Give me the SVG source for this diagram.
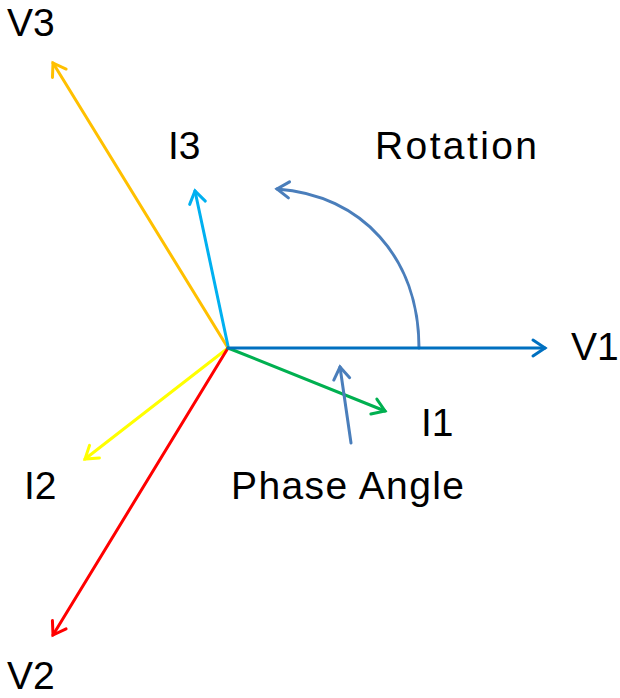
<svg xmlns="http://www.w3.org/2000/svg" width="620" height="698" viewBox="0 0 620 698">
<style>
.lbl{font-family:"Liberation Sans","Open Sans",Arial,sans-serif;font-size:39px;fill:#000}
.vec{fill:none;stroke-width:3;stroke-linecap:round}
.head{fill:none;stroke-width:3;stroke-linecap:round;stroke-linejoin:miter}
</style>
<defs>
<marker id="mV1" markerUnits="userSpaceOnUse" orient="auto" markerWidth="30" markerHeight="30" refX="0" refY="0" viewBox="-15 -15 30 30" overflow="visible"><path class="head" d="M-12,-8 L0,0 L-12,8" stroke="#0070C0"/></marker>
<marker id="mV3" markerUnits="userSpaceOnUse" orient="auto" markerWidth="30" markerHeight="30" refX="0" refY="0" viewBox="-15 -15 30 30" overflow="visible"><path class="head" d="M-12,-8 L0,0 L-12,8" stroke="#FFC000"/></marker>
<marker id="mI3" markerUnits="userSpaceOnUse" orient="auto" markerWidth="30" markerHeight="30" refX="0" refY="0" viewBox="-15 -15 30 30" overflow="visible"><path class="head" d="M-12,-8 L0,0 L-12,8" stroke="#00B0F0"/></marker>
<marker id="mI2" markerUnits="userSpaceOnUse" orient="auto" markerWidth="30" markerHeight="30" refX="0" refY="0" viewBox="-15 -15 30 30" overflow="visible"><path class="head" d="M-12,-8 L0,0 L-12,8" stroke="#FFFF00"/></marker>
<marker id="mV2" markerUnits="userSpaceOnUse" orient="auto" markerWidth="30" markerHeight="30" refX="0" refY="0" viewBox="-15 -15 30 30" overflow="visible"><path class="head" d="M-12,-8 L0,0 L-12,8" stroke="#FF0000"/></marker>
<marker id="mI1" markerUnits="userSpaceOnUse" orient="auto" markerWidth="30" markerHeight="30" refX="0" refY="0" viewBox="-15 -15 30 30" overflow="visible"><path class="head" d="M-12,-8 L0,0 L-12,8" stroke="#00B050"/></marker>
<marker id="mRot" markerUnits="userSpaceOnUse" orient="auto" markerWidth="30" markerHeight="30" refX="0" refY="0" viewBox="-15 -15 30 30" overflow="visible"><path class="head" d="M-12,-8 L0,0 L-12,8" stroke="#4A7EBB"/></marker>
</defs>
<g id="connectors">
<path id="rotation-arc" class="vec" stroke="#4A7EBB" d="M419,348 C419,258 362,195 277,189" marker-end="url(#mRot)"/>
<line id="vec-V3" class="vec" stroke="#FFC000" x1="228" y1="348" x2="53" y2="63" marker-end="url(#mV3)"/>
<line id="vec-I3" class="vec" stroke="#00B0F0" x1="228" y1="346" x2="195" y2="191" marker-end="url(#mI3)"/>
<line id="vec-I2" class="vec" stroke="#FFFF00" x1="228" y1="348" x2="85" y2="459" marker-end="url(#mI2)"/>
<line id="vec-V2" class="vec" stroke="#FF0000" x1="228" y1="348" x2="53" y2="635" marker-end="url(#mV2)"/>
<line id="vec-I1" class="vec" stroke="#00B050" x1="228" y1="348" x2="385" y2="411" marker-end="url(#mI1)"/>
<line id="vec-V1" class="vec" stroke="#0070C0" x1="228" y1="348" x2="545" y2="348" marker-end="url(#mV1)"/>
<line id="phase-arrow" class="vec" stroke="#4A7EBB" x1="351" y1="443" x2="340" y2="367" marker-end="url(#mRot)"/>
</g>
<g id="label-V3"><text class="lbl" x="7" y="36">V3</text></g>
<g id="label-I3"><text class="lbl" x="168" y="159">I3</text></g>
<g id="label-Rotation"><text class="lbl" x="375" y="159" textLength="162" lengthAdjust="spacing">Rotation</text></g>
<g id="label-V1"><text class="lbl" x="571" y="360">V1</text></g>
<g id="label-I1"><text class="lbl" x="421" y="436">I1</text></g>
<g id="label-I2"><text class="lbl" x="24" y="499">I2</text></g>
<g id="label-PhaseAngle"><text class="lbl" x="231" y="499" textLength="233" lengthAdjust="spacing">Phase Angle</text></g>
<g id="label-V2"><text class="lbl" x="7" y="689">V2</text></g>
</svg>
